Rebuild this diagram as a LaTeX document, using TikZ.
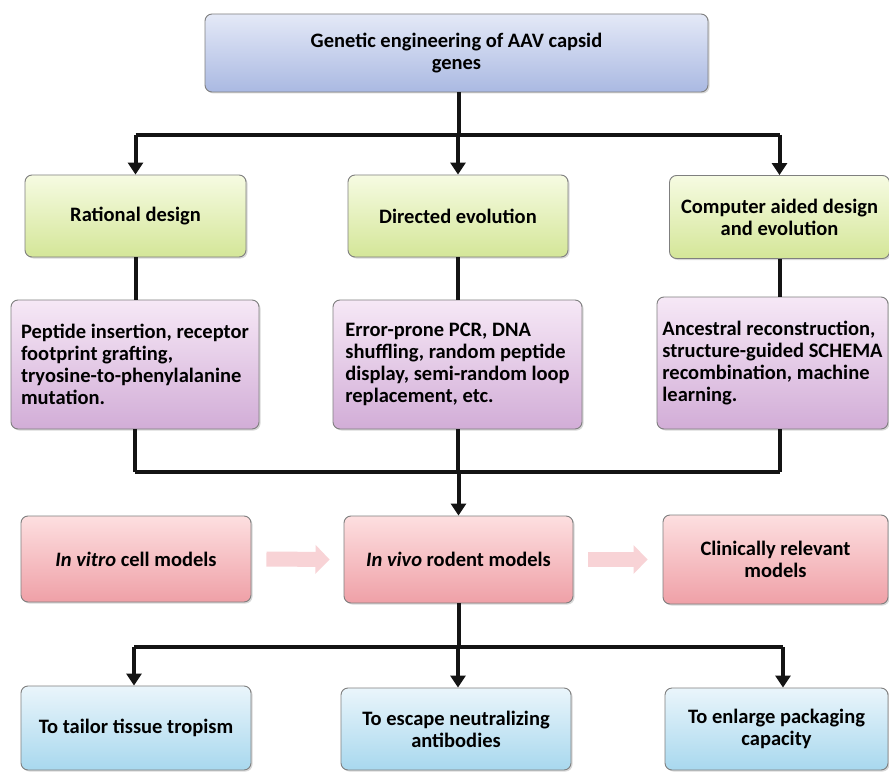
\documentclass[tikz,border=0pt]{standalone}
\usepackage{fontspec}
\setmainfont{Carlito}
\usetikzlibrary{arrows.meta,shadows}
\definecolor{bordc}{HTML}{7F7F7F}
\definecolor{topT}{HTML}{E4E9F7}\definecolor{topB}{HTML}{AAB9E2}
\definecolor{grnT}{HTML}{F6FBE2}\definecolor{grnB}{HTML}{D4E698}
\definecolor{purT}{HTML}{F6E8F6}\definecolor{purB}{HTML}{D2ADD7}
\definecolor{pnkT}{HTML}{FDDFE0}\definecolor{pnkB}{HTML}{EFA0A7}
\definecolor{bluT}{HTML}{EAF5FB}\definecolor{bluB}{HTML}{A8D8EE}
\definecolor{arrP}{HTML}{F8D3D6}
\tikzset{
  box/.style={draw=bordc, line width=0.9pt, rounded corners=7pt,
    font=\bfseries\fontsize{20.5}{22.2}\selectfont, align=center, inner sep=4pt,
    drop shadow={shadow xshift=1.5pt, shadow yshift=-1.5pt, opacity=0.3}},
  topbox/.style={box, top color=topT, bottom color=topB},
  grnbox/.style={box, top color=grnT, bottom color=grnB},
  purbox/.style={box, top color=purT, bottom color=purB, align=left},
  pnkbox/.style={box, top color=pnkT, bottom color=pnkB},
  blubox/.style={box, top color=bluT, bottom color=bluB},
  conn/.style={line width=4pt, black!92},
  arr/.style={conn, -{Triangle[width=15pt,length=12pt]}},
  blockarr/.style={line width=15pt, arrP, -{Triangle[width=28pt,length=14pt]}},
}
\begin{document}
\begin{tikzpicture}[x=1pt,y=-1pt]
\useasboundingbox[fill=white] (0,0) rectangle (889,773);
% boxes
\node[topbox, minimum width=503, minimum height=78] (top) at (456.5,53) {Genetic engineering of AAV capsid\\genes};
\node[grnbox, minimum width=221, minimum height=82] (gR) at (135.5,216) {Rational design};
\node[grnbox, minimum width=220, minimum height=82] (gD) at (458,216) {Directed evolution};
\node[grnbox, minimum width=220, minimum height=83] (gC) at (779.5,217) {Computer aided design\\and evolution};
\node[purbox, minimum width=248, minimum height=129] (pR) at (135,364.5) {Peptide insertion, receptor\\footprint grafting,\\tryosine-to-phenylalanine\\mutation.};
\node[purbox, minimum width=249, minimum height=129] (pD) at (457.5,364.5) {Error-prone PCR, DNA\\shuffling, random peptide\\display, semi-random loop\\replacement, etc.};
\node[purbox, minimum width=231, minimum height=132] (pC) at (772.5,363) {Ancestral reconstruction,\\structure-guided SCHEMA\\recombination, machine\\learning.};
\node[pnkbox, minimum width=230, minimum height=86] (kL) at (136,559) {\textit{In vitro} cell models};
\node[pnkbox, minimum width=229, minimum height=87] (kM) at (458.5,559.5) {\textit{In vivo} rodent models};
\node[pnkbox, minimum width=225, minimum height=89] (kR) at (775.5,559.5) {Clinically relevant\\models};
\node[blubox, minimum width=230, minimum height=84] (bL) at (136,728) {To tailor tissue tropism};
\node[blubox, minimum width=230, minimum height=82] (bM) at (456,729) {To escape neutralizing\\antibodies};
\node[blubox, minimum width=223, minimum height=82] (bR) at (776.5,729) {To enlarge packaging\\capacity};
% bus coordinates
\coordinate (j1) at (459,135);
\coordinate (j2) at (459,472);
\coordinate (j3L) at (134,647);
\coordinate (j3M) at (458,647);
\coordinate (j3R) at (783,647);
% top -> green
\draw[conn] (j1 |- top.south) -- (j1);
\draw[conn] (gR.north |- j1) -- (gC.north |- j1);
\draw[arr] (gR.north |- j1) -- (gR.north);
\draw[arr] (gD.north |- j1) -- (gD.north);
\draw[arr] (gC.north |- j1) -- (gC.north);
% green -> purple
\draw[conn] (gR.south) -- (gR.south |- pR.north);
\draw[conn] (gD.south) -- (gD.south |- pD.north);
\draw[conn] (gC.south) -- (gC.south |- pC.north);
% purple -> bus2 -> in vivo
\draw[conn] (pR.south) -- (pR.south |- j2);
\draw[conn] (pD.south) -- (pD.south |- j2);
\draw[conn] (gC.south |- pC.south) -- (gC.south |- j2);
\draw[conn] (pR.south |- j2) -- (gC.south |- j2);
\draw[arr] (kM.north |- j2) -- (kM.north);
% block arrows
\draw[blockarr] ([xshift=15pt]kL.east) -- ([xshift=-14pt]kM.west);
\draw[blockarr] ([xshift=15pt]kM.east) -- ([xshift=-15pt]kR.west);
% in vivo -> outcomes
\draw[conn] (kM.south) -- (kM.south |- j3M);
\draw[conn] (j3L) -- (j3R);
\draw[arr] (j3L) -- (j3L |- bL.north);
\draw[arr] (j3M) -- (j3M |- bM.north);
\draw[arr] (j3R) -- (j3R |- bR.north);
\end{tikzpicture}
\end{document}
